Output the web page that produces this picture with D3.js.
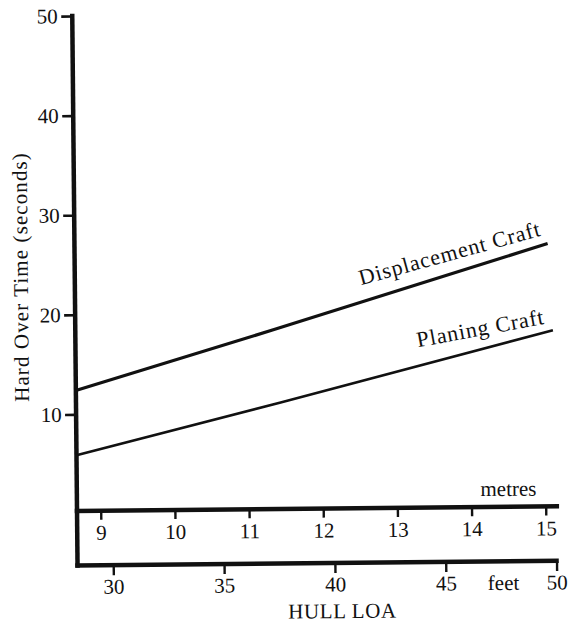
<!DOCTYPE html>
<html>
<head>
<meta charset="utf-8">
<script src="https://cdn.jsdelivr.net/npm/d3@7"></script>
<style>
  body { margin: 0; background: #fff; }
  svg text { font-family: "Liberation Serif", "Times New Roman", serif; fill: #111; }
</style>
</head>
<body>
<div id="vis"></div>
<script>
// values (x in metres, y in seconds)
const displacementMetres = [8.68, 11.35, 15.06];
const displacementSecs = [12.4, 18.3, 26.7];
const planingMetres = [8.68, 11.44, 15.12];
const planingSecs = [5.9, 11.0, 18.0];

const secondTicks = [10, 20, 30, 40, 50];
const metreTicks = [9, 10, 11, 12, 13, 14, 15];
const feetTicks = [30, 35, 40, 45, 50];

document.addEventListener("DOMContentLoaded", function () {
    const width = 568, height = 626;
    const svg = d3.select("#vis").append("svg")
        .attr("width", width)
        .attr("height", height);

    // the printed page is a little skewed, tilt the whole drawing to match
    const g = svg.append("g").attr("transform", "rotate(-0.55,284,300)");

    const axisX = 75, metresY = 509, feetY = 563.5;
    const ink = "#111";

    const y = d3.scaleLinear().domain([0, 50]).range([512, 14]);
    const xm = d3.scaleLinear().domain([9, 15]).range([98.7, 543.7]);
    const xf = d3.scaleLinear().domain([30, 50]).range([110.7, 554]);

    function styleAxis(sel, tickWidth) {
        sel.select(".domain").remove();
        sel.selectAll("line").attr("stroke", ink).attr("stroke-width", tickWidth);
        sel.selectAll("text").attr("fill", ink).style("font-size", "21px");
    }

    // y axis
    const yAxis = g.append("g")
        .attr("transform", `translate(${axisX},0)`)
        .call(d3.axisLeft(y).tickValues(secondTicks).tickFormat(d3.format("d"))
            .tickSize(11).tickPadding(3.5).tickSizeOuter(0));
    styleAxis(yAxis, 2.6);

    // metres axis
    const mAxis = g.append("g")
        .attr("transform", `translate(0,${metresY})`)
        .call(d3.axisBottom(xm).tickValues(metreTicks).tickFormat(d3.format("d"))
            .tickSize(9).tickPadding(5).tickSizeOuter(0));
    styleAxis(mAxis, 2.4);

    // feet axis
    const fAxis = g.append("g")
        .attr("transform", `translate(0,${feetY})`)
        .call(d3.axisBottom(xf).tickValues(feetTicks).tickFormat(d3.format("d"))
            .tickSize(10).tickPadding(3.6).tickSizeOuter(0));
    styleAxis(fAxis, 2.4);

    // heavy frame lines
    const frame = g.append("g").attr("stroke", ink).attr("stroke-width", 4.5)
        .attr("stroke-linecap", "square").attr("fill", "none");
    frame.append("line").attr("x1", axisX).attr("x2", axisX).attr("y1", y(50)).attr("y2", feetY);
    frame.append("line").attr("x1", axisX).attr("x2", xm(15.15)).attr("y1", metresY).attr("y2", metresY);
    frame.append("line").attr("x1", axisX).attr("x2", xf(50)).attr("y1", feetY).attr("y2", feetY);

    // the two curves
    const line = d3.line().x(d => xm(d[0])).y(d => y(d[1]));
    g.append("path")
        .attr("d", line(d3.zip(displacementMetres, displacementSecs)))
        .attr("fill", "none").attr("stroke", ink).attr("stroke-width", 3.2);
    g.append("path")
        .attr("d", line(d3.zip(planingMetres, planingSecs)))
        .attr("fill", "none").attr("stroke", ink).attr("stroke-width", 2.6);

    const label = (x, yy, angle, txt) => g.append("text")
        .attr("transform", `translate(${x},${yy}) rotate(${angle})`)
        .attr("fill", ink)
        .style("font-size", "22px")
        .style("letter-spacing", "0.9px")
        .text(txt);

    label(xm(12.54), y(22.7), -14.8, "Displacement Craft");
    label(xm(13.30), y(16.4), -10, "Planing Craft");

    // axis titles
    g.append("text")
        .attr("transform", "translate(28,274.5) rotate(-90)")
        .attr("text-anchor", "middle")
        .attr("fill", ink)
        .style("font-size", "21px")
        .style("letter-spacing", "1.1px")
        .text("Hard Over Time (seconds)");

    g.append("text")
        .attr("x", xm(14.5)).attr("y", 498)
        .attr("text-anchor", "middle")
        .attr("fill", ink)
        .style("font-size", "21px")
        .text("metres");

    g.append("text")
        .attr("x", xf(47.6)).attr("y", 592)
        .attr("text-anchor", "middle")
        .attr("fill", ink)
        .style("font-size", "21px")
        .text("feet");

    g.append("text")
        .attr("x", 339.4).attr("y", 618.6)
        .attr("text-anchor", "middle")
        .attr("fill", ink)
        .style("font-size", "21px")
        .style("letter-spacing", "0.6px")
        .text("HULL LOA");
});
</script>
</body>
</html>
